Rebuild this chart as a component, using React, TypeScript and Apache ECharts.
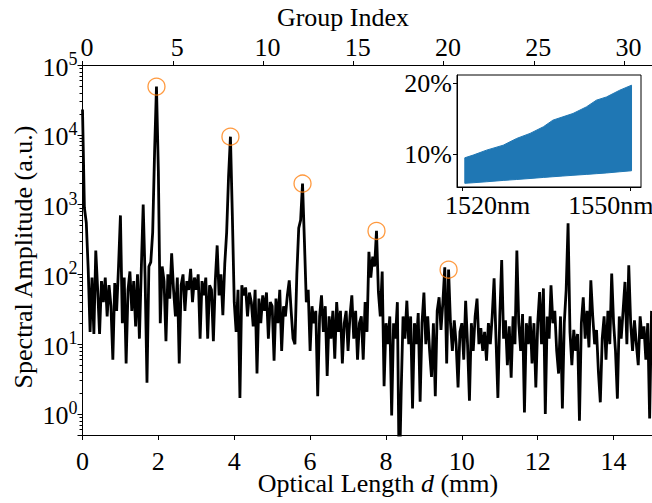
import { useEffect, useRef } from 'react';
import * as echarts from 'echarts';

const FONT = "'Liberation Serif', 'Times New Roman', Times, serif";

// Spectrum sampled every STEP_MM millimetres, starting at 0 mm
const STEP_MM = 0.05;
const AMPLITUDE = [
  23000, 900, 550, 120, 15, 90, 14, 220, 60, 14, 80, 40, 90, 25, 70, 35, 6, 75, 30, 130,
  700, 20, 90, 5.3, 60, 110, 30, 80, 18, 100, 12, 120, 1000, 90, 2.8, 130, 150, 400, 5600, 49000,
  3000, 20, 130, 80, 11, 100, 45, 200, 60, 25, 90, 5.3, 70, 100, 30, 80, 60, 120, 40, 90,
  60, 100, 12, 80, 50, 90, 12, 70, 60, 11, 80, 260, 50, 100, 26, 140, 400, 2500, 9400, 700,
  40, 15, 60, 1.7, 70, 50, 65, 25, 55, 40, 18, 60, 3.8, 45, 20, 50, 30, 55, 12, 40,
  35, 5.8, 45, 20, 60, 8, 35, 25, 50, 82, 30, 12, 10, 100, 460, 600, 2000, 300, 40, 60,
  8, 35, 20, 30, 1.8, 25, 50, 15, 35, 3.5, 25, 12, 30, 6.2, 40, 15, 30, 5.3, 20, 30,
  8, 25, 50, 12, 30, 6, 20, 25, 6, 40, 15, 210, 90, 180, 130, 420, 56, 25, 110, 2.5,
  20, 10, 25, 0.95, 20, 12, 40, 0.1, 2, 25, 12, 42, 10, 25, 1.2, 20, 10, 28, 1.5, 20,
  55, 10, 25, 8, 3.4, 20, 1.8, 30, 47, 16, 40, 126, 5.3, 117, 20, 8, 22, 10, 2.4, 15,
  20, 6, 42, 10, 1.55, 20, 8, 25, 45, 10, 17, 8, 15, 5.8, 20, 10, 25, 88, 12, 1.7,
  25, 160, 12, 22, 5, 18, 3.3, 25, 10, 220, 20, 8, 27, 1.05, 20, 10, 25, 5.3, 20, 2.4,
  20, 56, 10, 63, 1.0, 25, 12, 70, 20, 30, 8, 3.8, 25, 1.2, 20, 60, 540, 15, 5, 16,
  8, 14, 0.8, 20, 47, 12, 30, 9, 82, 25, 10, 16, 4, 1.47, 12, 25, 6, 30, 10, 103,
  20, 8, 1.66, 25, 12, 30, 78, 10, 135, 20, 8, 22, 10, 5, 25, 12, 18, 6, 20, 0.86, 30,
];

// Marked peaks (orange circles)
const PEAK_D = [1.95, 3.9, 5.8, 7.75, 9.65];
const PEAK_AMP = [49000, 9400, 2000, 420, 117];

// Inset: transmission band envelope vs wavelength
const INSET_WL = [1520.4, 1521.9, 1524.3, 1527.3, 1529.7, 1532.1, 1534.5, 1536.2, 1538.0, 1539.8, 1542.2, 1544.0, 1545.8, 1548.2, 1550.3];
const INSET_UPPER = [9.52, 9.9, 10.6, 11.3, 12.25, 12.96, 13.9, 14.83, 15.3, 15.77, 16.7, 17.65, 18.1, 19.06, 19.76];
const INSET_LOWER = [5.92, 6.0, 6.14, 6.33, 6.46, 6.6, 6.75, 6.85, 6.95, 7.05, 7.18, 7.28, 7.38, 7.55, 7.69];
const INSET_X_TICKS = [1520, 1550];
const INSET_Y_TICKS = [10, 20];

export default function App() {
  const ref = useRef<HTMLDivElement>(null);

  useEffect(() => {
    if (!ref.current) return;
    const chart = echarts.init(ref.current, null, { renderer: 'svg' });

    const black = '#000';
    const blue = '#1f77b4';
    const labelBase = { fontFamily: FONT, fontSize: 26, color: black };

    const option: any = {
      animation: false,
      backgroundColor: '#fff',
      grid: [
        { left: 82.5, top: 65, width: 588, height: 370, outerBoundsMode: 'none' },
        {
          left: 457, top: 75, width: 184, height: 112, show: true,
          borderColor: black, borderWidth: 1, backgroundColor: '#fff', z: 5, outerBoundsMode: 'none',
        },
      ],
      xAxis: [
        {
          type: 'value', gridIndex: 0, position: 'bottom', min: 0, max: 15.5, interval: 2,
          axisLine: { show: true, onZero: false, lineStyle: { color: black, width: 1 } },
          axisTick: { show: true, length: 5, lineStyle: { color: black } },
          axisLabel: {
            ...labelBase, lineHeight: 22, margin: 15, showMaxLabel: false,
            formatter: (v: number) => (Math.abs(v % 2) < 1e-9 ? String(v) : ''),
          },
          splitLine: { show: false },
        },
        {
          type: 'value', gridIndex: 0, position: 'top', min: 0, max: 32.57, interval: 5,
          axisLine: { show: true, onZero: false, lineStyle: { color: black, width: 1 } },
          axisTick: { show: true, length: 4, lineStyle: { color: black } },
          axisLabel: {
            ...labelBase, margin: 5, showMaxLabel: false, padding: [0, 0, 0, 9],
            formatter: (v: number) => (Math.abs(v % 5) < 1e-9 ? String(v) : ''),
          },
          splitLine: { show: false },
        },
        {
          type: 'value', gridIndex: 1, min: 1519, max: 1552, z: 6,
          axisLine: { show: true, onZero: false, lineStyle: { color: black, width: 1 } },
          axisTick: { show: true, length: 4, customValues: INSET_X_TICKS, lineStyle: { color: black } },
          axisLabel: {
            margin: 5, customValues: INSET_X_TICKS, hideOverlap: false,
            formatter: (v: number) => (v === INSET_X_TICKS[0] ? '{a|' : '{b|') + String(v) + 'nm}',
            rich: {
              a: { ...labelBase, padding: [0, 0, 0, 50] },
              b: { ...labelBase, padding: [0, 38, 0, 0] },
            },
          },
          splitLine: { show: false },
        },
      ],
      yAxis: [
        {
          type: 'log', logBase: 10, gridIndex: 0, min: 0.5, max: 100000,
          axisLine: { show: true, onZero: false, lineStyle: { color: black, width: 1 } },
          axisTick: { show: true, length: 5, lineStyle: { color: black } },
          minorTick: { show: true, splitNumber: 9, length: 3, lineStyle: { color: black, width: 1 } },
          axisLabel: {
            margin: 5,
            formatter: (v: number) => {
              const e = Math.round(Math.log10(v));
              if (Math.abs(Math.log10(v) - e) > 1e-6) return '';
              return '{b|10}{s|' + e + '}';
            },
            rich: {
              b: { fontFamily: FONT, fontSize: 26, color: black, lineHeight: 30, verticalAlign: 'bottom' },
              s: { fontFamily: FONT, fontSize: 18, color: black, lineHeight: 30, verticalAlign: 'top' },
            },
          },
          splitLine: { show: false },
          minorSplitLine: { show: false },
        },
        {
          type: 'value', gridIndex: 1, min: 5.4, max: 21.2, z: 6,
          axisLine: { show: true, onZero: false, lineStyle: { color: black, width: 1 } },
          axisTick: { show: true, length: 4, customValues: INSET_Y_TICKS, lineStyle: { color: black } },
          axisLabel: {
            ...labelBase, margin: 5, customValues: INSET_Y_TICKS,
            formatter: (v: number) => String(v) + '%',
          },
          splitLine: { show: false },
        },
      ],
      series: [
        {
          type: 'line', xAxisIndex: 0, yAxisIndex: 0,
          data: AMPLITUDE.map((v, i) => [i * STEP_MM, v]),
          showSymbol: false, symbol: 'none', clip: true,
          lineStyle: { color: black, width: 2.8 },
          z: 2,
        },
        {
          type: 'scatter', xAxisIndex: 0, yAxisIndex: 0,
          data: PEAK_D.map((d, i) => [d, PEAK_AMP[i]]),
          symbol: 'circle', symbolSize: 17,
          itemStyle: { color: 'rgba(0,0,0,0)', borderColor: '#ff7f0e', borderWidth: 1.3 },
          z: 3,
        },
        {
          type: 'custom', xAxisIndex: 2, yAxisIndex: 1, z: 7,
          data: INSET_WL.map((w, i) => [w, INSET_LOWER[i], INSET_UPPER[i]]),
          encode: { x: 0, y: [1, 2] },
          renderItem: (params: any, api: any) => {
            if (params.dataIndex !== 0) return null;
            const top = INSET_WL.map((w, i) => api.coord([w, INSET_UPPER[i]]));
            const bottom = INSET_WL.map((w, i) => api.coord([w, INSET_LOWER[i]])).reverse();
            return {
              type: 'polygon',
              shape: { points: top.concat(bottom) },
              style: { fill: blue, stroke: blue, lineWidth: 1 },
            };
          },
        },
      ],
      graphic: [
        {
          type: 'text', x: 343, y: 17,
          style: { text: 'Group Index', fontFamily: FONT, fontSize: 26, fill: black, align: 'center', verticalAlign: 'middle' },
        },
        {
          type: 'text', x: 378, y: 483,
          style: {
            text: 'Optical Length {i|d} (mm)', fontFamily: FONT, fontSize: 26, lineHeight: 20, fill: black,
            align: 'center', verticalAlign: 'middle',
            rich: { i: { fontFamily: FONT, fontSize: 26, lineHeight: 20, fontStyle: 'italic', fill: black } },
          },
        },
        {
          type: 'text', x: 23, y: 257, rotation: Math.PI / 2,
          style: { text: 'Spectral Amplitude (a.u.)', fontFamily: FONT, fontSize: 26, fill: black, align: 'center', verticalAlign: 'middle' },
        },
      ],
    };

    chart.setOption(option);
    return () => chart.dispose();
  }, []);

  return (
    <div
      ref={ref}
      style={{ position: 'fixed', left: 0, top: 0, width: 652, height: 503, background: '#fff' }}
    />
  );
}
